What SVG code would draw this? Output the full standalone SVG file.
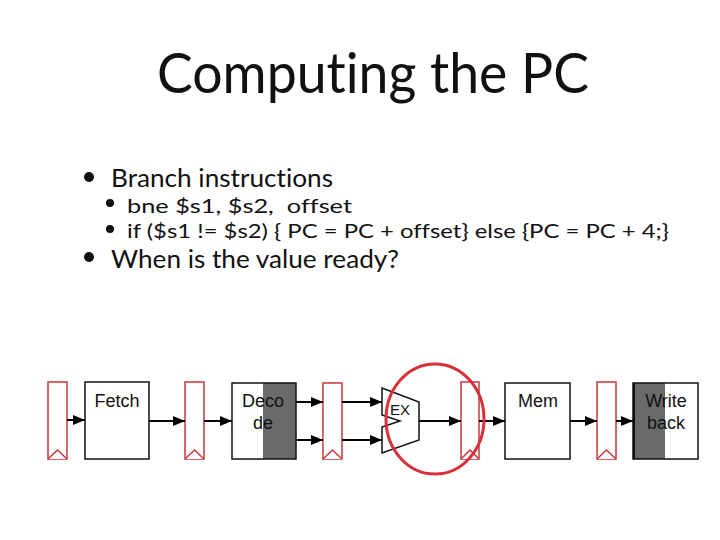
<svg xmlns="http://www.w3.org/2000/svg" width="720" height="540" viewBox="0 0 720 540">
<defs>
<style>
.title{font-family:"Lato","Open Sans","DejaVu Sans",sans-serif;font-size:57px;fill:#111;font-variant-ligatures:none}
.b1{font-family:"Lato","Open Sans","DejaVu Sans",sans-serif;font-size:25px;fill:#111;font-variant-ligatures:none}
.b2{font-family:"Lato","Open Sans","DejaVu Sans",sans-serif;font-size:20px;fill:#111;font-variant-ligatures:none}
.lbl{font-family:"Liberation Sans",Arial,sans-serif;font-size:18px;fill:#111;text-anchor:middle}
.latch{fill:#fff;stroke:#c8373a;stroke-width:1.5}
.box{fill:#fff;stroke:#111;stroke-width:1.5}
.wire{stroke:#000;stroke-width:2;fill:none}
</style>
<marker id="ah" viewBox="0 0 12 10" refX="12" refY="5" markerWidth="12" markerHeight="10" markerUnits="userSpaceOnUse" orient="auto">
<path d="M0,0 L12,5 L0,10 z" fill="#000"/>
</marker>
</defs>
<rect width="720" height="540" fill="#fff"/>
<g id="title"><text class="title" x="157" y="93" textLength="432" lengthAdjust="spacingAndGlyphs">Computing the PC</text></g>
<g id="bullets">
<circle cx="89" cy="177" r="5" fill="#111"/>
<text class="b1" x="111" y="187" textLength="222" lengthAdjust="spacingAndGlyphs">Branch instructions</text>
<circle cx="110" cy="203" r="4" fill="#111"/>
<text class="b2" x="127" y="213" textLength="225" lengthAdjust="spacingAndGlyphs" xml:space="preserve">bne $s1, $s2,  offset</text>
<circle cx="110" cy="229" r="4" fill="#111"/>
<text class="b2" x="127" y="238" textLength="542" lengthAdjust="spacingAndGlyphs">if ($s1 != $s2) { PC = PC + offset} else {PC = PC + 4;}</text>
<circle cx="89" cy="257" r="5" fill="#111"/>
<text class="b1" x="111" y="268" textLength="288" lengthAdjust="spacingAndGlyphs">When is the value ready?</text>
</g>
<g id="latch1"><rect class="latch" x="48" y="382" width="19" height="77"/><path class="latch" d="M48,459 L57.5,450 L67,459" fill="none"/></g>
<g id="fetch"><rect class="box" x="85" y="382" width="64" height="77"/><text class="lbl" x="117" y="407">Fetch</text></g>
<g id="latch2"><rect class="latch" x="185" y="382" width="19" height="77"/><path class="latch" d="M185,459 L194.5,450 L204,459" fill="none"/></g>
<g id="decode"><rect x="232" y="383" width="64" height="76" fill="#fff"/><rect x="263" y="383" width="33" height="76" fill="#6a6a6a"/><rect x="232" y="383" width="64" height="76" fill="none" stroke="#111" stroke-width="1.5"/><text class="lbl" x="263" y="407">Deco</text><text class="lbl" x="263" y="429">de</text></g>
<g id="latch3"><rect class="latch" x="323" y="383" width="19" height="76"/><path class="latch" d="M323,459 L332.5,450 L342,459" fill="none"/></g>
<g id="ex"><path d="M382,388 L419,402 L419,440 L382,453 L382,427 L400,421 L382,415 Z" fill="#fff" stroke="#111" stroke-width="1.5"/><text class="lbl" x="400" y="415" style="font-size:15px">EX</text></g>
<g id="latch4"><rect class="latch" x="461" y="382" width="18" height="77"/><path class="latch" d="M461,459 L470,450 L479,459" fill="none"/></g>
<g id="mem"><rect class="box" x="505" y="383" width="65" height="76"/><text class="lbl" x="538" y="407">Mem</text></g>
<g id="latch5"><rect class="latch" x="597" y="382" width="19" height="77"/><path class="latch" d="M597,459 L606.5,450 L616,459" fill="none"/></g>
<g id="writeback"><rect x="633" y="383" width="65" height="76" fill="#fff"/><rect x="633" y="383" width="32" height="76" fill="#6a6a6a"/><rect x="633" y="383" width="65" height="76" fill="none" stroke="#111" stroke-width="1.5"/><line x1="634" y1="383" x2="634" y2="459" stroke="#111" stroke-width="2"/><text class="lbl" x="666" y="407">Write</text><text class="lbl" x="666" y="429">back</text></g>
<g id="connectors">
<line class="wire" x1="67" y1="420" x2="85" y2="420" marker-end="url(#ah)"/>
<line class="wire" x1="149" y1="421" x2="185" y2="421" marker-end="url(#ah)"/>
<line class="wire" x1="204" y1="421" x2="232" y2="421" marker-end="url(#ah)"/>
<line class="wire" x1="296" y1="402" x2="323" y2="402" marker-end="url(#ah)" stroke-width="1.5"/>
<line class="wire" x1="296" y1="440" x2="323" y2="440" marker-end="url(#ah)" stroke-width="1.5"/>
<line class="wire" x1="342" y1="402" x2="382" y2="402" marker-end="url(#ah)" stroke-width="1.5"/>
<line class="wire" x1="342" y1="440" x2="382" y2="440" marker-end="url(#ah)" stroke-width="1.5"/>
<line class="wire" x1="419" y1="421" x2="461" y2="421" marker-end="url(#ah)"/>
<line class="wire" x1="479" y1="421" x2="505" y2="421" marker-end="url(#ah)"/>
<line class="wire" x1="570" y1="421" x2="597" y2="421" marker-end="url(#ah)"/>
<line class="wire" x1="616" y1="421" x2="633" y2="421" marker-end="url(#ah)"/>
</g>
<g id="highlight"><ellipse cx="435" cy="419" rx="49" ry="55" fill="none" stroke="#d8303a" stroke-width="3"/></g>
</svg>
